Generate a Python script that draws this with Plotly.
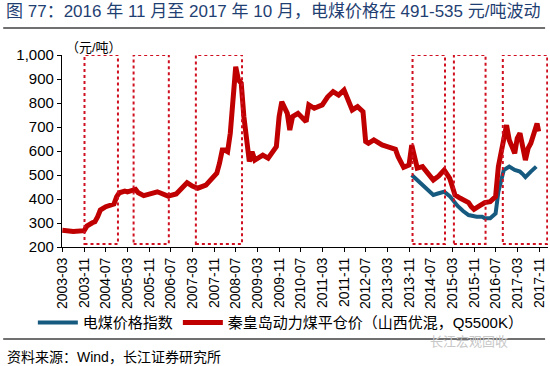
import plotly.graph_objects as go

# 秦皇岛动力煤平仓价（山西优混，Q5500K）
red_dates = ["2003-03","2003-07","2003-11","2003-12","2004-02","2004-03","2004-04","2004-05","2004-07",
             "2004-09","2004-10","2004-11","2004-12","2005-02","2005-03","2005-06","2005-07","2005-09",
             "2005-12","2006-02","2006-03","2006-06","2006-09","2006-11","2007-01","2007-03","2007-05",
             "2007-08","2007-10","2007-12","2008-01","2008-02","2008-03","2008-04","2008-05","2008-06",
             "2008-07","2008-08","2008-09","2008-10","2008-12","2009-01","2009-02","2009-05","2009-07",
             "2009-10","2009-11","2009-12","2010-02","2010-03","2010-04","2010-06","2010-09","2010-10",
             "2010-12","2011-03","2011-05","2011-07","2011-09","2011-11","2012-01","2012-02","2012-04",
             "2012-06","2012-07","2012-08","2012-10","2013-01","2013-03","2013-06","2013-07","2013-09",
             "2013-11","2013-12","2014-02","2014-04","2014-06","2014-08","2014-10","2014-12","2015-02",
             "2015-04","2015-06","2015-09","2015-10","2015-11","2016-01","2016-03","2016-05","2016-07",
             "2016-08","2016-10","2016-11","2016-12","2017-02","2017-03","2017-04","2017-06","2017-07",
             "2017-08","2017-09","2017-10-10","2017-10-28"]
red_values = [270,265,268,287,301,305,326,354,368,
              372,379,410,426,433,430,440,426,414,
              421,430,426,412,421,445,468,454,445,
              458,479,507,549,604,604,597,674,812,
              951,896,882,743,556,597,562,583,570,
              618,743,805,757,687,743,757,722,792,
              778,792,826,847,833,854,799,771,785,
              764,639,632,646,625,618,607,576,532,
              542,625,529,535,507,479,496,521,486,
              417,403,385,368,357,371,385,389,410,
              535,660,708,646,590,653,674,562,611,
              632,667,715,681]

# 电煤价格指数
blue_dates = ["2013-12","2014-02","2014-04","2014-06","2014-08","2014-10","2014-12","2015-02",
              "2015-05","2015-07","2015-09","2015-12","2016-02","2016-03","2016-05","2016-07",
              "2016-08","2016-10","2016-12","2017-02","2017-04","2017-05","2017-06","2017-08","2017-10"]
blue_values = [500,479,454,437,417,424,430,412,
               371,350,333,326,326,320,320,340,
               430,521,535,521,514,504,491,514,535]

tick_labels = ["2003-03","2003-11","2004-07","2005-03","2005-11","2006-07","2007-03","2007-11",
               "2008-07","2009-03","2009-11","2010-07","2011-03","2011-11","2012-07","2013-03",
               "2013-11","2014-07","2015-03","2015-11","2016-07","2017-03","2017-11"]

# highlighted periods (start, end)
period_starts = ["2003-11-05","2005-05-10","2007-04-10","2013-12-10","2015-03-20","2016-09-20"]
period_ends   = ["2004-11-15","2006-06-10","2008-09-10","2014-12-10","2016-03-10","2018-02-01"]

FONT = "Liberation Sans, Arial, Noto Sans CJK SC, sans-serif"
RED = "#c00000"
BLUE = "#175a80"

fig = go.Figure()
fig.add_trace(go.Scatter(x=blue_dates, y=blue_values, mode="lines", name="电煤价格指数",
                         line=dict(color=BLUE, width=4)))
fig.add_trace(go.Scatter(x=red_dates, y=red_values, mode="lines",
                         name="秦皇岛动力煤平仓价（山西优混，Q5500K）",
                         line=dict(color=RED, width=5)))

for s, e in zip(period_starts, period_ends):
    fig.add_shape(type="rect", xref="x", yref="y", x0=s, x1=e, y0=212, y1=1000,
                  line=dict(color="#d01020", width=2, dash="dot"), fillcolor="rgba(0,0,0,0)",
                  layer="above")

# decorative rules
fig.add_shape(type="line", xref="paper", yref="paper", x0=-0.121, x1=0.994, y0=1.1406, y1=1.1406,
              line=dict(color="#404040", width=1.5))
fig.add_shape(type="line", xref="paper", yref="paper", x0=-0.121, x1=0.994, y0=-0.479, y1=-0.479,
              line=dict(color="#404040", width=1.5))

fig.add_annotation(text="图 77：2016 年 11 月至 2017 年 10 月，电煤价格在 491-535 元/吨波动",
                   xref="paper", yref="paper", x=-0.119, y=1.228, xanchor="left", yanchor="middle",
                   showarrow=False, font=dict(family=FONT, size=17, color="#1f3f73"))
fig.add_annotation(text="（元/吨）", xref="paper", yref="paper", x=0.005, y=1.04,
                   xanchor="left", yanchor="middle", showarrow=False,
                   font=dict(family=FONT, size=13, color="#000000"))
fig.add_annotation(text="资料来源：Wind，长江证券研究所", xref="paper", yref="paper",
                   x=-0.117, y=-0.573, xanchor="left", yanchor="middle", showarrow=False,
                   font=dict(family=FONT, size=14, color="#000000"))
fig.add_annotation(text="长江宏观固收", xref="paper", yref="paper",
                   x=0.922, y=-0.49, xanchor="right", yanchor="middle", showarrow=False,
                   font=dict(family=FONT, size=13, color="#c8c8c8"))

fig.update_layout(
    width=550, height=366,
    margin=dict(l=62, r=2, t=55, b=119),
    paper_bgcolor="white", plot_bgcolor="white",
    font=dict(family=FONT, size=14, color="#000000"),
    showlegend=True,
    legend=dict(orientation="h", x=-0.06, y=-0.395, xanchor="left", yanchor="middle",
                font=dict(family=FONT, size=15), bgcolor="rgba(0,0,0,0)",
                itemwidth=40, tracegroupgap=0),
    xaxis=dict(type="date", range=["2003-02-25", "2018-02-10"],
               tickmode="array", tickvals=[t + "-01" for t in tick_labels], ticktext=tick_labels,
               tickangle=-90, tickfont=dict(size=14),
               showline=True, linecolor="#000000", linewidth=1.2,
               ticks="outside", ticklen=4, tickcolor="#000000", showgrid=False, zeroline=False),
    yaxis=dict(range=[200, 1000], dtick=100, tick0=200, tickformat=",d",
               tickfont=dict(size=15),
               showline=True, linecolor="#000000", linewidth=1.2,
               ticks="outside", ticklen=4, tickcolor="#000000", showgrid=False, zeroline=False),
)

fig.write_html("out.html")
